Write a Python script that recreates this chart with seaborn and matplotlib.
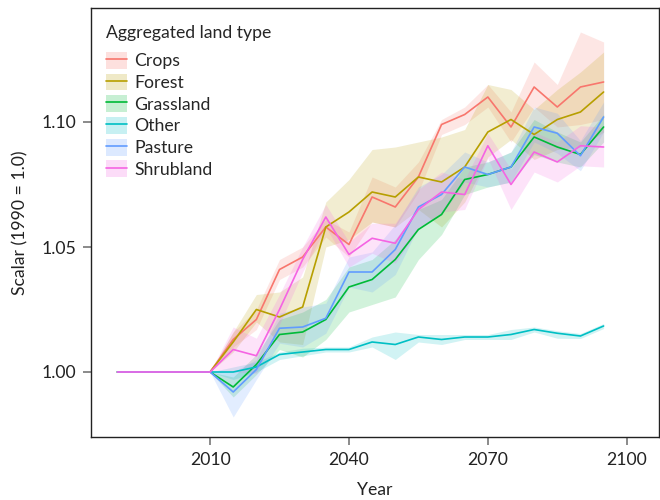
import numpy as np
import pandas as pd
import matplotlib
matplotlib.use("Agg")
import matplotlib.pyplot as plt
from matplotlib.patches import Patch
from matplotlib.lines import Line2D
import seaborn as sns

# Years of the projection (values fixed at 1.0 up to 2010)
years = [1990, 1995, 2000, 2005, 2010, 2015, 2020, 2025, 2030, 2035, 2040,
         2045, 2050, 2055, 2060, 2065, 2070, 2075, 2080, 2085, 2090, 2095]

land_types = ["Crops", "Forest", "Grassland", "Other", "Pasture", "Shrubland"]
colors = ["#F8766D", "#B79F00", "#00BA38", "#00BFC4", "#619CFF", "#F564E3"]

base = [1.0, 1.0, 1.0, 1.0, 1.0]

crops = base + [1.013, 1.021, 1.041, 1.046, 1.058, 1.051, 1.070, 1.066, 1.078,
                1.099, 1.103, 1.110, 1.098, 1.114, 1.106, 1.114, 1.116]
forest = base + [1.012, 1.025, 1.022, 1.026, 1.058, 1.064, 1.072, 1.070, 1.078,
                 1.076, 1.082, 1.096, 1.101, 1.095, 1.101, 1.104, 1.112]
grassland = base + [0.994, 1.003, 1.015, 1.016, 1.021, 1.034, 1.037, 1.045, 1.057,
                    1.063, 1.077, 1.079, 1.082, 1.094, 1.090, 1.087, 1.098]
other = base + [1.000, 1.002, 1.007, 1.008, 1.009, 1.009, 1.012, 1.011, 1.014,
                1.013, 1.014, 1.014, 1.015, 1.017, 1.0155, 1.0144, 1.0184]
pasture = base + [0.992, 1.001, 1.0175, 1.018, 1.0215, 1.040, 1.040, 1.049, 1.066,
                  1.071, 1.082, 1.079, 1.082, 1.098, 1.0955, 1.0865, 1.102]
shrubland = base + [1.009, 1.0065, 1.025, 1.045, 1.062, 1.047, 1.0535, 1.0515, 1.065,
                    1.072, 1.071, 1.0905, 1.075, 1.088, 1.084, 1.0905, 1.090]

z = [0.0] * 5
# Lower / upper extent of the uncertainty band below / above each line
crops_lo = z + [.003, .004, .004, .004, .004, .005, .010, .008, .006, .004, .004, .004, .006, .008, .008, .015, .015]
crops_hi = z + [.003, .004, .004, .004, .003, .005, .008, .008, .006, .002, .003, .005, .006, .010, .009, .022, .016]
forest_lo = z + [.004, .005, .010, .015, .008, .011, .012, .012, .013, .018, .014, .010, .008, .010, .012, .014, .016]
forest_hi = z + [.004, .006, .010, .012, .010, .013, .017, .020, .014, .018, .015, .019, .012, .010, .012, .016, .016]
grass_lo = z + [.004, .004, .006, .010, .008, .010, .010, .015, .012, .008, .006, .005, .006, .007, .006, .005, .006]
grass_hi = z + [.004, .004, .006, .008, .008, .008, .008, .008, .008, .006, .005, .005, .006, .007, .006, .005, .005]
other_lo = z + [.003, .002, .002, .0015, .001, .001, .002, .006, .002, .002, .001, .001, .002, .001, .002, .001, .001]
other_hi = z + [.002, .002, .001, .0015, .001, .001, .002, .005, .001, .002, .001, .001, .002, .001, .001, .001, .001]
pasture_lo = z + [.010, .004, .006, .008, .006, .006, .008, .010, .008, .008, .006, .005, .006, .006, .008, .006, .006]
pasture_hi = z + [.008, .004, .006, .008, .006, .006, .008, .010, .008, .008, .006, .005, .006, .008, .008, .006, .006]
shrub_lo = z + [.009, .007, .006, .005, .004, .005, .006, .008, .008, .008, .006, .005, .010, .008, .008, .008, .008]
shrub_hi = z + [.009, .007, .006, .005, .005, .005, .006, .008, .008, .008, .006, .005, .006, .008, .008, .008, .008]

series = {
    "Crops": (crops, crops_lo, crops_hi),
    "Forest": (forest, forest_lo, forest_hi),
    "Grassland": (grassland, grass_lo, grass_hi),
    "Other": (other, other_lo, other_hi),
    "Pasture": (pasture, pasture_lo, pasture_hi),
    "Shrubland": (shrubland, shrub_lo, shrub_hi),
}

rows = []
for name in land_types:
    vals, lo, hi = series[name]
    for yr, v, l, h in zip(years, vals, lo, hi):
        rows.append({"Year": yr, "Scalar": v, "lower": v - l, "upper": v + h,
                     "Aggregated land type": name})
df = pd.DataFrame(rows)

sns.set_theme(style="ticks")
plt.rcParams["font.family"] = ["Lato", "DejaVu Sans"]

palette = dict(zip(land_types, colors))
FS = 12.7

fig = plt.figure(figsize=(6.6, 5.0), dpi=100)
ax = fig.add_axes([0.138, 0.126, 0.860, 0.858])

for name in land_types:
    sub = df[df["Aggregated land type"] == name]
    ax.fill_between(sub["Year"], sub["lower"], sub["upper"],
                    color=palette[name], alpha=0.18, linewidth=0)

sns.lineplot(data=df, x="Year", y="Scalar", hue="Aggregated land type",
             palette=palette, hue_order=land_types, linewidth=1.2,
             legend=False, ax=ax)

ax.set_xlim(1984.3, 2106.9)
ax.set_ylim(0.974, 1.1456)
ax.set_xticks([2010, 2040, 2070, 2100])
ax.set_yticks([1.00, 1.05, 1.10])
ax.set_yticklabels(["1.00", "1.05", "1.10"])
ax.set_xlabel("Year", fontsize=FS, color="#222222", labelpad=10)
ax.set_ylabel("Scalar (1990 = 1.0)", fontsize=FS, color="#222222", labelpad=9)
ax.tick_params(axis="both", direction="out", length=6, width=1.2,
               color="#777777", labelsize=FS, labelcolor="#222222", pad=5)
for side in ["left", "right", "top", "bottom"]:
    ax.spines[side].set_visible(True)
    ax.spines[side].set_color("#222222")
    ax.spines[side].set_linewidth(1.0)

handles = [(Patch(facecolor=palette[n], alpha=0.22, edgecolor="none"),
            Line2D([], [], color=palette[n], linewidth=1.2)) for n in land_types]
leg = ax.legend(handles, land_types, title="Aggregated land type",
                loc="upper left", frameon=False, fontsize=FS,
                title_fontsize=FS, handlelength=1.2, handleheight=1.1,
                labelspacing=0.24, handletextpad=0.4,
                borderaxespad=0.3, bbox_to_anchor=(0.004, 0.99))
leg._legend_box.align = "left"
leg._legend_box.sep = 0.24 * FS + 5

fig.savefig("out.png", dpi=100)
